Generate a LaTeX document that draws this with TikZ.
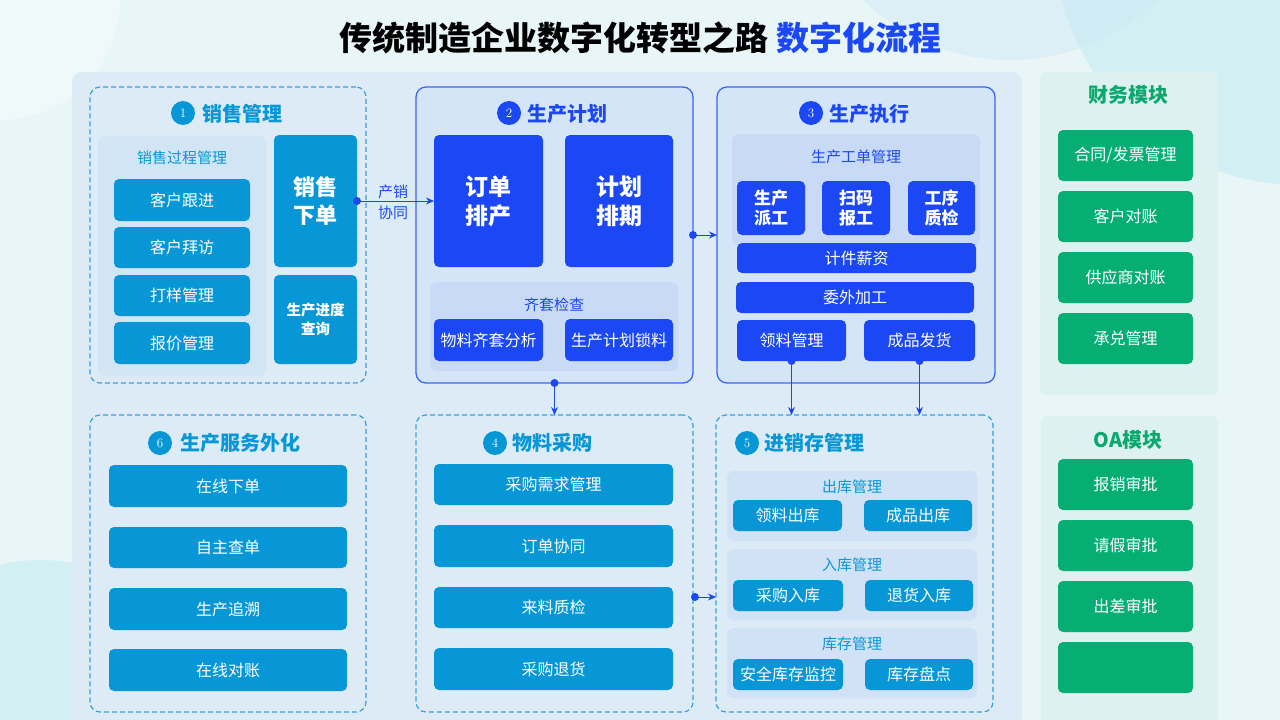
\documentclass[tikz,border=0pt]{standalone}
\usepackage{fontspec}
\newfontfamily\cjk{Noto Sans CJK SC}
\usetikzlibrary{arrows.meta}
\definecolor{bgc}{HTML}{E8F6F7}
\definecolor{mainp}{HTML}{DDEBF6}
\definecolor{cyanb}{HTML}{0897D6}
\definecolor{dashc}{HTML}{3A9FDC}
\definecolor{royal}{HTML}{1B48F4}
\definecolor{royalbd}{HTML}{3C66F2}
\definecolor{sfill}{HTML}{D5E5F8}
\definecolor{subp}{HTML}{D2E5F5}
\definecolor{subr}{HTML}{C8DAF6}
\definecolor{subq}{HTML}{D1E2F6}
\definecolor{greenb}{HTML}{06AE74}
\definecolor{greent}{HTML}{0BA86E}
\definecolor{gpanel}{HTML}{DDF1F0}
\definecolor{circa}{HTML}{CDEFF2}
\definecolor{circb}{HTML}{CFE5F6}
\newcommand\bx[6]{\node[#6, minimum width={#4pt-#2pt}, minimum height={#5pt-#3pt}] (#1) at ({(#2+#4)/2},{(#3+#5)/2})}
\begin{document}
\begin{tikzpicture}[x=1pt,y=-1pt,
  every node/.style={inner sep=0pt, outer sep=0pt},
  dashbox/.style={draw=dashc, dash pattern=on 5pt off 3pt, line width=1.2pt, rounded corners=10pt},
  solidbox/.style={draw=royalbd, line width=1.3pt, fill=sfill, rounded corners=10pt},
  cbox/.style={fill=cyanb, rounded corners=5pt, text=white, align=center, font=\cjk\fontsize{16}{20}\selectfont},
  rbox/.style={fill=royal, rounded corners=5pt, text=white, align=center, font=\cjk\fontsize{16}{20}\selectfont},
  gbox/.style={fill=greenb, rounded corners=5pt, text=white, align=center, font=\cjk\fontsize{16}{20}\selectfont},
  subpanel/.style={fill=#1, rounded corners=7pt},
  sectitle/.style={anchor=west, font=\cjk\bfseries\fontsize{20}{23}\selectfont, text=#1},
  numc/.style={circle, fill=#1, minimum size=24pt, text=white, font=\fontsize{13}{13}\selectfont},
  sublabel/.style={font=\cjk\fontsize{15}{18}\selectfont, text=#1},
  conn/.style={draw=royal, line width=1pt, -{Stealth[length=8pt,width=7pt]}},
  dotc/.style={fill=royal}
]
\useasboundingbox (0,0) rectangle (1280,720);
\fill[bgc] (0,0) rectangle (1280,720);
\begin{scope}
  \clip (0,0) rectangle (1280,720);
  \fill[circa, opacity=0.8] (1300,-60) circle (245);
  \fill[circb, opacity=0.45] (1010,-150) circle (210);
  \fill[circa, opacity=0.8] (40,735) circle (175);
  \fill[white, opacity=0.35] (0,0) circle (120);
\end{scope}
% main panel
\fill[mainp, rounded corners=10pt] (72,72) rectangle (1022,740);
% title
\node[font=\cjk\bfseries\fontsize{33}{36}\selectfont] (title) at (640,38) {传统制造企业数字化转型之路\hspace{8pt}\textcolor{royal}{数字化流程}};

% ---------- section 1
\bx{s1}{90}{87}{366}{383}{dashbox}{};
\node[numc=cyanb] (n1) at (183,113) {1};
\node[sectitle=cyanb] (t1) at (202,114) {销售管理};
\bx{p1}{98}{136}{266}{376}{subpanel=subp}{};
\node[sublabel=cyanb] (l1) at (182,158) {销售过程管理};
\bx{a1}{114}{179}{250}{221}{cbox}{客户跟进};
\bx{a2}{114}{227}{250}{268}{cbox}{客户拜访};
\bx{a3}{114}{275}{250}{316}{cbox}{打样管理};
\bx{a4}{114}{322}{250}{364}{cbox}{报价管理};
\bx{xd}{274}{135}{357}{267}{cbox, font=\cjk\bfseries\fontsize{22}{28}\selectfont}{销售\\下单};
\bx{cx}{274}{275}{357}{364}{cbox, font=\cjk\bfseries\fontsize{14.5}{19}\selectfont}{生产进度\\查询};

% ---------- section 2
\bx{s2}{416}{87}{693}{383}{solidbox}{};
\node[numc=royal] (n2) at (509,113) {2};
\node[sectitle=royal] (t2) at (527,114) {生产计划};
\bx{dd}{434}{135}{543}{267}{rbox, font=\cjk\bfseries\fontsize{23}{29}\selectfont}{订单\\排产};
\bx{jh}{565}{135}{673}{267}{rbox, font=\cjk\bfseries\fontsize{23}{29}\selectfont}{计划\\排期};
\bx{p2}{430}{282}{678}{371}{subpanel=subr}{};
\node[sublabel=royal] (l2) at (554,305) {齐套检查};
\bx{wl}{434}{319}{543}{361}{rbox}{物料齐套分析};
\bx{sd}{565}{319}{673}{361}{rbox}{生产计划锁料};

% ---------- section 3
\bx{s3}{717}{87}{995}{383}{solidbox}{};
\node[numc=royal] (n3) at (811,113) {3};
\node[sectitle=royal] (t3) at (829,114) {生产执行};
\bx{p3}{732}{134}{980}{245}{subpanel=subr}{};
\node[sublabel=royal] (l3) at (856,157) {生产工单管理};
\bx{b1}{737}{181}{805}{235}{rbox, font=\cjk\bfseries\fontsize{17}{20}\selectfont}{生产\\派工};
\bx{b2}{822}{181}{890}{235}{rbox, font=\cjk\bfseries\fontsize{17}{20}\selectfont}{扫码\\报工};
\bx{b3}{908}{181}{975}{235}{rbox, font=\cjk\bfseries\fontsize{17}{20}\selectfont}{工序\\质检};
\bx{jj}{737}{243}{976}{273}{rbox}{计件薪资};
\bx{ww}{736}{282}{974}{313}{rbox}{委外加工};
\bx{ll}{737}{320}{846}{361}{rbox}{领料管理};
\bx{cp}{864}{320}{975}{361}{rbox}{成品发货};

% ---------- section 6
\bx{s6}{90}{415}{366}{712}{dashbox}{};
\node[numc=cyanb] (n6) at (160,443) {6};
\node[sectitle=cyanb] (t6) at (180,443) {生产服务外化};
\bx{f1}{109}{465}{347}{507}{cbox}{在线下单};
\bx{f2}{109}{527}{347}{568}{cbox}{自主查单};
\bx{f3}{109}{588}{347}{630}{cbox}{生产追溯};
\bx{f4}{109}{649}{347}{691}{cbox}{在线对账};

% ---------- section 4
\bx{s4}{416}{415}{693}{712}{dashbox}{};
\node[numc=cyanb] (n4) at (495,443) {4};
\node[sectitle=cyanb] (t4) at (512,443) {物料采购};
\bx{c1}{434}{464}{673}{505}{cbox}{采购需求管理};
\bx{c2}{434}{525}{673}{567}{cbox}{订单协同};
\bx{c3}{434}{587}{673}{628}{cbox}{来料质检};
\bx{c4}{434}{648}{673}{690}{cbox}{采购退货};

% ---------- section 5
\bx{s5}{716}{415}{993}{712}{dashbox}{};
\node[numc=cyanb] (n5) at (747,443) {5};
\node[sectitle=cyanb] (t5) at (764,443) {进销存管理};
\bx{q1}{727}{471}{977}{541}{subpanel=subq}{};
\node[sublabel=cyanb] (m1) at (852,487) {出库管理};
\bx{e1}{733}{500}{842}{531}{cbox}{领料出库};
\bx{e2}{864}{500}{972}{531}{cbox}{成品出库};
\bx{q2}{727}{549}{977}{620}{subpanel=subq}{};
\node[sublabel=cyanb] (m2) at (852,565) {入库管理};
\bx{e3}{733}{580}{843}{611}{cbox}{采购入库};
\bx{e4}{865}{580}{973}{611}{cbox}{退货入库};
\bx{q3}{727}{628}{977}{698}{subpanel=subq}{};
\node[sublabel=cyanb] (m3) at (852,644) {库存管理};
\bx{e5}{733}{659}{843}{690}{cbox}{安全库存监控};
\bx{e6}{865}{659}{973}{690}{cbox}{库存盘点};

% ---------- finance
\bx{fin}{1040}{72}{1218}{395}{subpanel=gpanel}{};
\node[font=\cjk\bfseries\fontsize{20}{23}\selectfont, text=greent] (ft) at (1128,95) {财务模块};
\bx{g1}{1058}{130}{1193}{181}{gbox}{合同/发票管理};
\bx{g2}{1058}{191}{1193}{242}{gbox}{客户对账};
\bx{g3}{1058}{252}{1193}{303}{gbox}{供应商对账};
\bx{g4}{1058}{313}{1193}{364}{gbox}{承兑管理};

% ---------- OA
\bx{oa}{1041}{416}{1218}{740}{subpanel=gpanel}{};
\node[font=\cjk\bfseries\fontsize{20}{23}\selectfont, text=greent] (ot) at (1128,440) {OA模块};
\bx{h1}{1058}{459}{1193}{510}{gbox}{报销审批};
\bx{h2}{1058}{520}{1193}{571}{gbox}{请假审批};
\bx{h3}{1058}{581}{1193}{632}{gbox}{出差审批};
\bx{h4}{1058}{642}{1193}{693}{gbox}{};

% ---------- connectors
\coordinate (p45) at (695,597);
\draw[conn] (xd.east) -- (dd.west);
\node[font=\cjk\fontsize{15}{21}\selectfont, text=royal, align=center] (cx1) at (393,202) {产销\\协同};
\draw[conn] (s2.east) -- (s3.west);
\draw[conn] (s2.south) -- (s4.north);
\draw[conn] (ll.south) -- (ll.south |- s5.north);
\draw[conn] (cp.south) -- (cp.south |- s5.north);
\draw[conn] (p45) -- (s5.west |- p45);
\fill[dotc] (xd.east) circle (4);
\fill[dotc] (s2.east) circle (4);
\fill[dotc] (s2.south) circle (4);
\fill[dotc] (ll.south) circle (4);
\fill[dotc] (cp.south) circle (4);
\fill[dotc] (p45) circle (4);
\end{tikzpicture}
\end{document}
